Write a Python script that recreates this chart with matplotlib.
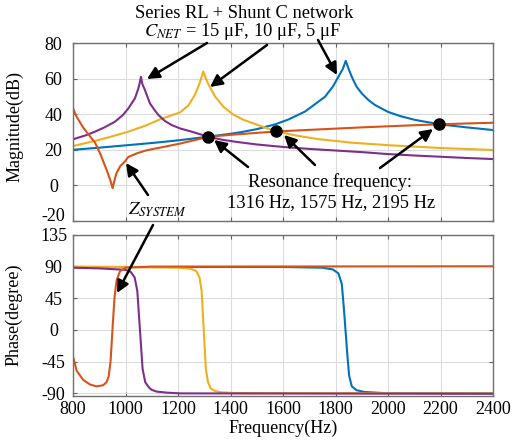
import numpy as np
import matplotlib
matplotlib.use("Agg")
import matplotlib.pyplot as plt

plt.rcParams['font.family'] = ['Liberation Serif', 'DejaVu Serif']
plt.rcParams['mathtext.fontset'] = 'stix'
plt.rcParams['axes.unicode_minus'] = False

# magnitude curves (Hz, dB)
f_mag_15u = [800, 850, 884, 920, 960, 990, 1011, 1036, 1049, 1054, 1059, 1064, 1074, 1093,
             1110, 1125, 1150, 1176, 1210, 1252, 1316, 1370, 1430, 1500, 1600, 1700, 1800,
             1900, 2000, 2100, 2200, 2300, 2400]
mag_15u = [25.9, 28.2, 30.2, 32.6, 35.8, 39.5, 43.3, 48.9, 54.5, 57.5, 61.0, 57.0, 53.6, 46.1,
           42.5, 39.6, 36.2, 33.9, 31.9, 30.2, 27.3, 25.6, 24.3, 23.0, 21.6, 20.5, 19.6,
           18.7, 17.6, 16.8, 16.1, 15.4, 14.8]

f_mag_10u = [800, 884, 950, 1011, 1075, 1138, 1208, 1240, 1265, 1284, 1296, 1305, 1315, 1328,
             1341, 1373, 1410, 1450, 1486, 1530, 1575, 1650, 1734, 1862, 2000, 2200, 2400]
mag_10u = [22.1, 25.0, 27.6, 30.2, 33.5, 37.5, 41.0, 45.0, 51.0, 58.0, 64.0, 60.5, 57.0, 53.5,
           50.0, 44.2, 39.8, 36.8, 34.9, 32.6, 30.3, 28.0, 26.0, 24.0, 22.6, 21.0, 19.9]

f_mag_5u = [800, 900, 1000, 1100, 1200, 1316, 1400, 1443, 1500, 1570, 1620, 1684, 1730, 1760,
            1790, 1811, 1828, 1839, 1850, 1862, 1880, 1900, 1925, 1950, 2000, 2050, 2103,
            2198, 2300, 2400]
mag_5u = [20.0, 21.2, 22.5, 23.8, 25.3, 27.4, 29.0, 30.0, 31.6, 34.3, 37.0, 41.5, 46.5, 49.8,
          55.5, 61.0, 65.5, 70.0, 65.5, 61.0, 55.5, 51.7, 48.0, 45.2, 41.3, 38.8, 36.8,
          34.3, 32.6, 31.1]

f_mag_sys = [800, 814, 839, 865, 884, 903, 918, 930, 942, 951, 960, 966, 980, 998, 1011, 1043,
             1075, 1106, 1138, 1208, 1265, 1316, 1400, 1500, 1575, 1700, 1800, 1900, 2000,
             2100, 2195, 2300, 2400]
mag_sys = [43.3, 38.5, 32.5, 27.5, 24.0, 18.0, 12.5, 8.0, 3.0, -1.6, 4.0, 7.0, 10.8, 13.5, 16.0,
           18.0, 19.5, 20.5, 21.4, 23.5, 25.5, 27.3, 28.4, 29.5, 30.3, 31.2, 31.9, 32.6, 33.2,
           33.8, 34.3, 34.8, 35.2]

# phase curves (Hz, degree)
f_ph_15u = [800, 900, 1000, 1020, 1035, 1045, 1055, 1065, 1075, 1090, 1100, 1119, 1160, 1208, 2400]
ph_15u = [88, 87, 85, 82, 74, 55, 0, -55, -74, -82, -85, -87.5, -89, -90, -90.5]

f_ph_10u = [800, 1200, 1250, 1270, 1282, 1290, 1298, 1306, 1314, 1325, 1340, 1366, 1417, 2400]
ph_10u = [89.5, 88, 86.5, 83, 74, 55, 0, -55, -74, -83, -86.5, -88.5, -89.5, -90]

f_ph_5u = [800, 1600, 1750, 1790, 1811, 1824, 1832, 1838, 1845, 1852, 1862, 1880, 1910, 1981, 2400]
ph_5u = [89, 89, 88, 85.5, 80, 65, 30, 0, -35, -65, -80, -85.5, -88, -89.5, -90]

f_ph_sys = [800, 814, 839, 865, 890, 915, 928, 936, 943, 951, 958, 966, 979, 1000, 1100, 2400]
ph_sys = [-38, -58, -71, -77.5, -80, -78.5, -74, -66, -45, 4, 45, 70, 83, 88, 89.5, 90]

# resonance points
f_res = [1316, 1575, 2195]
mag_res = [27.3, 30.3, 34.3]

c_blue = '#0072BD'
c_orange = '#D95319'
c_yellow = '#EDB120'
c_purple = '#7E2F8E'

W, H = 522, 441
fig = plt.figure(figsize=(W / 100, H / 100), dpi=100)
ax1 = fig.add_axes([73 / W, 1 - 221 / H, 420 / W, 178 / H])
ax2 = fig.add_axes([73 / W, 1 - 395.5 / H, 420 / W, 161 / H])

lw = 1.5
ax1.plot(f_mag_5u, mag_5u, color=c_blue, lw=lw)
ax1.plot(f_mag_10u, mag_10u, color=c_yellow, lw=lw)
ax1.plot(f_mag_15u, mag_15u, color=c_purple, lw=lw)
ax1.plot(f_mag_sys, mag_sys, color=c_orange, lw=lw)
ax1.plot(f_res, mag_res, 'o', color='k', ms=8, zorder=5)

ax2.plot(f_ph_5u, ph_5u, color=c_blue, lw=lw)
ax2.plot(f_ph_10u, ph_10u, color=c_yellow, lw=lw)
ax2.plot(f_ph_15u, ph_15u, color=c_purple, lw=lw)
ax2.plot(f_ph_sys, ph_sys, color=c_orange, lw=lw)

ax1.set_xlim(800, 2400)
ax1.set_ylim(-20, 80)
ax1.set_yticks(np.arange(-20, 81, 20))
ax1.set_xticks(np.arange(800, 2401, 200))
ax1.set_xticklabels([])
ax1.set_ylabel('Magnitude(dB)', fontsize=13)
ax1.yaxis.set_label_coords(-0.118, 0.53)

ax2.set_xlim(800, 2400)
ax2.set_ylim(-93, 135)
ax2.set_yticks([-90, -45, 0, 45, 90, 135])
ax2.set_xticks(np.arange(800, 2401, 200))
ax2.set_ylabel('Phase(degree)', fontsize=13)
ax2.yaxis.set_label_coords(-0.12, 0.5)
ax2.set_xlabel('Frequency(Hz)', fontsize=13, labelpad=1)

for ax in (ax1, ax2):
    ax.grid(True, color='#dcdcdc', lw=0.8)
    ax.set_axisbelow(True)
    ax.tick_params(direction='in', top=True, right=True, labelsize=13,
                   color='#606060', length=3)
    ax.tick_params(axis='y', pad=14)
    ax.tick_params(axis='x', pad=4)
    for lab in ax.get_yticklabels():
        lab.set_horizontalalignment('center')
    for s in ax.spines.values():
        s.set_color('#707070')
        s.set_linewidth(1.0)

# lowest magnitude label sits on its tick, like the reference
ax1.get_yticklabels()[0].set_verticalalignment('baseline')


def fp(x, y):
    return (x / W, 1 - y / H)


ts = 13.3
fig.text(*fp(244, 13), 'Series RL + Shunt C network', fontsize=ts, ha='center', va='center')
fig.text(*fp(243, 32), r'$C_{NET}$ = 15 μF, 10 μF, 5 μF', fontsize=ts, ha='center', va='center')
fig.text(*fp(157, 210), r'$Z_{SYSTEM}$', fontsize=ts, ha='center', va='center')
fig.text(*fp(330, 182), 'Resonance frequency:', fontsize=ts, ha='center', va='center')
fig.text(*fp(331, 203), '1316 Hz, 1575 Hz, 2195 Hz', fontsize=ts, ha='center', va='center')

arrow = dict(arrowstyle='-|>', color='k', lw=1.8, mutation_scale=18, shrinkA=0, shrinkB=0)
arrows = [
    ((207, 43), (147, 79)),
    ((267, 45), (210, 87)),
    ((318, 40), (337, 75)),
    ((148, 195), (126, 163)),
    ((153, 225), (117, 293)),
    ((248, 167), (214, 140)),
    ((315, 165), (284, 135)),
    ((380, 168), (433, 129)),
]
for (x0, y0), (x1, y1) in arrows:
    fig.add_artist(matplotlib.patches.FancyArrowPatch(fp(x0, y0), fp(x1, y1),
                                                      transform=fig.transFigure, **arrow))

fig.savefig('out.png', dpi=100)
